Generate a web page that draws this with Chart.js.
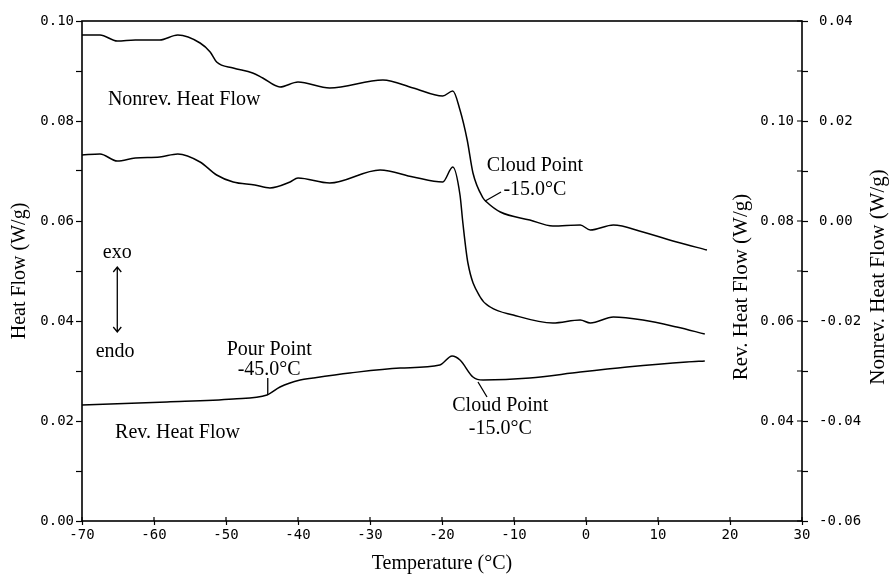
<!DOCTYPE html>
<html>
<head>
<meta charset="utf-8">
<script src="https://cdn.jsdelivr.net/npm/chart.js@4.4.1/dist/chart.umd.min.js"></script>
<style>
  html, body { margin: 0; padding: 0; background: #fff; }
  #wrap { width: 890px; height: 578px; }
</style>
</head>
<body>
<div id="wrap"><canvas id="mdsc"></canvas></div>
<script>
// Nonreversing heat flow (W/g) vs temperature (°C)
const nonrevTemp = [-70, -67.5, -65.1, -62.6, -59.2, -56.7, -53.6, -52.2, -51.3, -49.0, -46.3, -44.9, -42.5, -40.0, -35.6, -28.2, -24.0, -19.9, -18.5, -17.5, -16.5, -15.7, -14.3, -13.8, -11.9, -7.8, -4.6, -0.8, 0.6, 3.8, 7.9, 12.6, 16.8];
const nonrevFlow = [0.0372, 0.0372, 0.0360, 0.0362, 0.0362, 0.0372, 0.0356, 0.0338, 0.0318, 0.0306, 0.0296, 0.0286, 0.0268, 0.0278, 0.0266, 0.0282, 0.0266, 0.0250, 0.0260, 0.0222, 0.0162, 0.0096, 0.0046, 0.0038, 0.0018, 0.0002, -0.0010, -0.0008, -0.0018, -0.0008, -0.0022, -0.0042, -0.0058];

// Total heat flow
const totalTemp = [-70, -67.5, -65.1, -62.6, -59.2, -56.7, -53.6, -51.3, -49.0, -46.0, -43.9, -41.1, -40.0, -35.6, -28.6, -24.0, -19.9, -18.5, -17.5, -17.1, -16.4, -14.7, -13.3, -10.1, -4.6, -0.8, 0.6, 3.8, 7.9, 12.6, 16.5];
const totalFlow = [0.0732, 0.0734, 0.0720, 0.0726, 0.0728, 0.0734, 0.0718, 0.0692, 0.0678, 0.0672, 0.0666, 0.0678, 0.0686, 0.0676, 0.0702, 0.0688, 0.0678, 0.0708, 0.0652, 0.0596, 0.0516, 0.0448, 0.0428, 0.0412, 0.0396, 0.0402, 0.0396, 0.0408, 0.0402, 0.0388, 0.0374];

// Reversing heat flow
const revTemp = [-70, -58.2, -49.0, -44.3, -42.5, -39.7, -37.9, -32.8, -25.8, -20.3, -18.6, -17.5, -15.7, -14.3, -7.8, -0.8, 5.7, 14.0, 16.5];
const revFlow = [0.0432, 0.0438, 0.0444, 0.0452, 0.0468, 0.0482, 0.0486, 0.0496, 0.0506, 0.0512, 0.0530, 0.0522, 0.0488, 0.0482, 0.0486, 0.0498, 0.0508, 0.0518, 0.0520];

// axis ticks
const tempTicks = [-70, -60, -50, -40, -30, -20, -10, 0, 10, 20, 30];
const heatTicks = [0, 0.02, 0.04, 0.06, 0.08, 0.10];
const revTicks = [0.04, 0.06, 0.08, 0.10];
const nonrevTicks = [-0.06, -0.04, -0.02, 0, 0.02, 0.04];

const MONO = "'DejaVu Sans Mono', monospace";
const SERIF = "'Liberation Serif', 'Times New Roman', serif";

const toPts = (xs, ys) => xs.map((x, i) => ({ x: x, y: ys[i] }));

// major ticks plus a minor one half way between each pair
function withMinor(major) {
  const out = [];
  major.forEach((v, i) => {
    out.push(v);
    if (i < major.length - 1) out.push((v + major[i + 1]) / 2);
  });
  return out;
}
const isMajor = (list, v) => list.some(m => Math.abs(m - v) < 1e-9);
const fmt = v => (Math.round(v * 100) / 100).toFixed(2);

function drawText(ctx, txt, x, y, align) {
  ctx.textAlign = align || 'center';
  ctx.fillText(txt, x, y);
}

const decorPlugin = {
  id: 'decor',
  afterDraw(chart) {
    const { ctx, chartArea: a, scales } = chart;
    const xs = scales.x, ys = scales.y, nr = scales.nonrev;
    const px = t => xs.getPixelForValue(t);
    const py = v => ys.getPixelForValue(v);

    ctx.save();
    ctx.strokeStyle = '#000';
    ctx.fillStyle = '#000';

    // plot frame
    ctx.lineWidth = 1.6;
    ctx.strokeRect(a.left, a.top, a.right - a.left, a.bottom - a.top);

    // inner halves of the tick marks
    ctx.lineWidth = 1.2;
    ctx.beginPath();
    xs.ticks.forEach(t => {
      const x = xs.getPixelForValue(t.value);
      ctx.moveTo(x, a.bottom);
      ctx.lineTo(x, a.bottom - 4);
    });
    nr.ticks.forEach(t => {
      const y = nr.getPixelForValue(t.value);
      ctx.moveTo(a.right, y);
      ctx.lineTo(a.right - 5, y);
    });
    ctx.stroke();

    // rotated titles of the right-hand axes
    ctx.font = '21px ' + SERIF;
    ctx.textBaseline = 'middle';
    ctx.save();
    ctx.translate(a.right - 61, 287);
    ctx.rotate(-Math.PI / 2);
    drawText(ctx, 'Rev. Heat Flow (W/g)', 0, 0);
    ctx.restore();
    ctx.save();
    ctx.translate(a.right + 76, 277);
    ctx.rotate(-Math.PI / 2);
    drawText(ctx, 'Nonrev. Heat Flow (W/g)', 0, 0);
    ctx.restore();

    // curve labels and annotations
    ctx.font = '20px ' + SERIF;
    drawText(ctx, 'Nonrev. Heat Flow', px(-66.4), py(0.0842), 'left');
    drawText(ctx, 'Rev. Heat Flow', px(-65.4), py(0.0176), 'left');

    drawText(ctx, 'Cloud Point', px(-7.1), py(0.0710));
    drawText(ctx, '-15.0°C', px(-7.1), py(0.0662));
    drawText(ctx, 'Pour Point', px(-44.0), py(0.0342));
    drawText(ctx, '-45.0°C', px(-44.0), py(0.0302));
    drawText(ctx, 'Cloud Point', px(-11.9), py(0.0230));
    drawText(ctx, '-15.0°C', px(-11.9), py(0.0184));

    drawText(ctx, 'exo', px(-65.1), py(0.0536));
    drawText(ctx, 'endo', px(-65.4), py(0.0338));

    ctx.lineWidth = 1.3;
    ctx.beginPath();
    // leader lines
    ctx.moveTo(px(-14.0), py(0.0640));
    ctx.lineTo(px(-11.8), py(0.0658));
    ctx.moveTo(px(-44.2), py(0.0286));
    ctx.lineTo(px(-44.2), py(0.0252));
    ctx.moveTo(px(-15.0), py(0.0278));
    ctx.lineTo(px(-13.75), py(0.0248));
    // exo / endo double arrow
    const ax = px(-65.1), ay1 = py(0.0508), ay2 = py(0.0378);
    ctx.moveTo(ax, ay1);
    ctx.lineTo(ax, ay2);
    ctx.moveTo(ax - 4, ay1 + 5);
    ctx.lineTo(ax, ay1);
    ctx.lineTo(ax + 4, ay1 + 5);
    ctx.moveTo(ax - 4, ay2 - 5);
    ctx.lineTo(ax, ay2);
    ctx.lineTo(ax + 4, ay2 - 5);
    ctx.stroke();

    ctx.restore();
  }
};

const curve = (pts, axis) => ({
  data: pts,
  yAxisID: axis,
  borderColor: '#000',
  borderWidth: 1.5,
  pointRadius: 0,
  fill: false,
  cubicInterpolationMode: 'monotone'
});

const tickFont = { family: MONO, size: 14 };

new Chart(document.getElementById('mdsc'), {
  type: 'line',
  data: {
    datasets: [
      curve(toPts(nonrevTemp, nonrevFlow), 'nonrev'),
      curve(toPts(totalTemp, totalFlow), 'y'),
      curve(toPts(revTemp, revFlow), 'rev')
    ]
  },
  options: {
    responsive: true,
    maintainAspectRatio: false,
    animation: false,
    layout: { padding: { top: 21, left: 0, right: 0, bottom: 0 } },
    plugins: {
      legend: { display: false },
      tooltip: { enabled: false }
    },
    scales: {
      x: {
        type: 'linear',
        min: -70,
        max: 30,
        afterBuildTicks: s => { s.ticks = tempTicks.map(v => ({ value: v })); },
        afterFit: s => { s.height = 57; },
        ticks: { color: '#000', font: tickFont, padding: 2, maxRotation: 0 },
        grid: { drawOnChartArea: false, color: '#000', tickLength: 4, tickWidth: 1.2 },
        border: { display: false },
        title: {
          display: true,
          text: 'Temperature (°C)',
          color: '#000',
          font: { family: SERIF, size: 20 },
          padding: { top: 0, bottom: 2 }
        }
      },
      y: {
        position: 'left',
        min: 0,
        max: 0.10,
        afterBuildTicks: s => { s.ticks = withMinor(heatTicks).map(v => ({ value: v })); },
        afterFit: s => { s.width = 82; },
        ticks: {
          color: '#000',
          font: tickFont,
          padding: 2,
          autoSkip: false,
          callback: v => isMajor(heatTicks, v) ? fmt(v) : ''
        },
        grid: { drawOnChartArea: false, color: '#000', tickLength: 6, tickWidth: 1.2 },
        border: { display: false },
        title: {
          display: true,
          text: 'Heat Flow (W/g)',
          color: '#000',
          font: { family: SERIF, size: 20 },
          padding: { top: 8, bottom: 0 }
        }
      },
      rev: {
        position: 'right',
        weight: 0,
        min: 0.02,
        max: 0.12,
        afterBuildTicks: s => { s.ticks = revTicks.map(v => ({ value: v })); },
        afterFit: s => { s.width = 0; },
        ticks: {
          mirror: true,
          padding: -8,
          autoSkip: false,
          color: '#000',
          font: tickFont,
          callback: v => fmt(v)
        },
        grid: { display: false },
        border: { display: false }
      },
      nonrev: {
        position: 'right',
        weight: 1,
        min: -0.06,
        max: 0.04,
        afterBuildTicks: s => { s.ticks = withMinor(nonrevTicks).map(v => ({ value: v })); },
        afterFit: s => { s.width = 88; },
        ticks: {
          color: '#000',
          font: tickFont,
          padding: 11,
          autoSkip: false,
          callback: v => isMajor(nonrevTicks, v) ? fmt(v) : ''
        },
        grid: { drawOnChartArea: false, color: '#000', tickLength: 6, tickWidth: 1.2 },
        border: { display: false }
      }
    }
  },
  plugins: [decorPlugin]
});
</script>
</body>
</html>
